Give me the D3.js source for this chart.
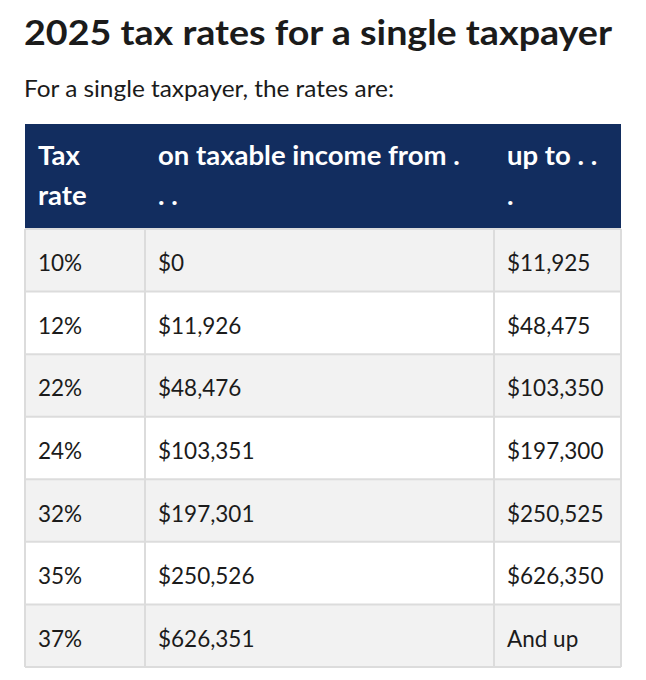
<!DOCTYPE html>
<html>
<head>
<meta charset="utf-8">
<script src="https://cdn.jsdelivr.net/npm/d3@7"></script>
<style>
  html, body { margin: 0; padding: 0; background: #fff; }
  svg { display: block; font-family: "Source Sans Pro", Lato, "Noto Sans", sans-serif; }
</style>
</head>
<body>
<svg id="chart" width="646" height="680"></svg>
<script>
// table content
var headers = [["Tax", "rate"], ["on taxable income from .", ". ."], ["up to . .", "."]];
var rates = ["10%", "12%", "22%", "24%", "32%", "35%", "37%"];
var fromIncome = ["$0", "$11,926", "$48,476", "$103,351", "$197,301", "$250,526", "$626,351"];
var upTo = ["$11,925", "$48,475", "$103,350", "$197,300", "$250,525", "$626,350", "And up"];

var svg = d3.select("#chart");

var left = 25, right = 621, headTop = 124, headBottom = 229, bottom = 667;
var colEdges = [left, 145, 494, right];

var y = d3.scaleBand().domain(d3.range(rates.length)).range([headBottom, bottom]);
var col = d3.scaleOrdinal().domain([0, 1, 2]).range(colEdges.slice(0, 3));

// stretch a text to a given width
function fit(sel, w) {
  sel.attr("textLength", w).attr("lengthAdjust", "spacingAndGlyphs");
}

svg.append("text")
    .attr("x", 24).attr("y", 45)
    .attr("font-size", 35).attr("font-weight", 700).attr("fill", "#1b1b1b")
    .text("2025 tax rates for a single taxpayer")
    .call(fit, 588);

svg.append("text")
    .attr("x", 24).attr("y", 97)
    .attr("font-size", 24).attr("fill", "#1b1b1b")
    .text("For a single taxpayer, the rates are:")
    .call(fit, 370);

// header
svg.append("rect")
    .attr("x", left).attr("y", headTop)
    .attr("width", right - left).attr("height", headBottom - headTop)
    .attr("fill", "#122d5f");

var hg = svg.selectAll("g.head").data(headers).join("g").attr("class", "head")
    .attr("transform", function(d, i) { return "translate(" + (col(i) + 13) + ",0)"; });
hg.selectAll("text").data(function(d) { return d; }).join("text")
    .attr("x", 0)
    .attr("y", function(d, i) { return 165 + i * 40; })
    .attr("font-size", 27.5).attr("font-weight", 700).attr("fill", "#fff")
    .text(function(d) { return d; });

// body rows
var rows = rates.map(function(r, i) { return [r, fromIncome[i], upTo[i]]; });

svg.selectAll("rect.row").data(rows).join("rect")
    .attr("class", "row")
    .attr("x", left).attr("y", function(d, i) { return y(i); })
    .attr("width", right - left).attr("height", y.bandwidth())
    .attr("fill", function(d, i) { return i % 2 === 0 ? "#f2f2f2" : "#fff"; });

// grid lines
var lineColor = "#dcdcdc";
svg.selectAll("line.h").data(d3.range(rates.length + 1)).join("line")
    .attr("class", "h")
    .attr("x1", left).attr("x2", right)
    .attr("y1", function(i) { return i < rates.length ? y(i) : bottom; })
    .attr("y2", function(i) { return i < rates.length ? y(i) : bottom; })
    .attr("stroke", lineColor).attr("stroke-width", 2);
svg.selectAll("line.v").data(colEdges).join("line")
    .attr("class", "v")
    .attr("x1", function(d) { return d; }).attr("x2", function(d) { return d; })
    .attr("y1", headBottom).attr("y2", bottom)
    .attr("stroke", lineColor).attr("stroke-width", 2);

var rg = svg.selectAll("g.rowtext").data(rows).join("g").attr("class", "rowtext")
    .attr("transform", function(d, i) { return "translate(0," + (y(i) + y.bandwidth() / 2 + 11) + ")"; });
rg.selectAll("text").data(function(d) { return d; }).join("text")
    .attr("x", function(d, i) { return col(i) + 13; })
    .attr("font-size", 22.5).attr("fill", "#1b1b1b")
    .text(function(d) { return d; });
</script>
</body>
</html>
